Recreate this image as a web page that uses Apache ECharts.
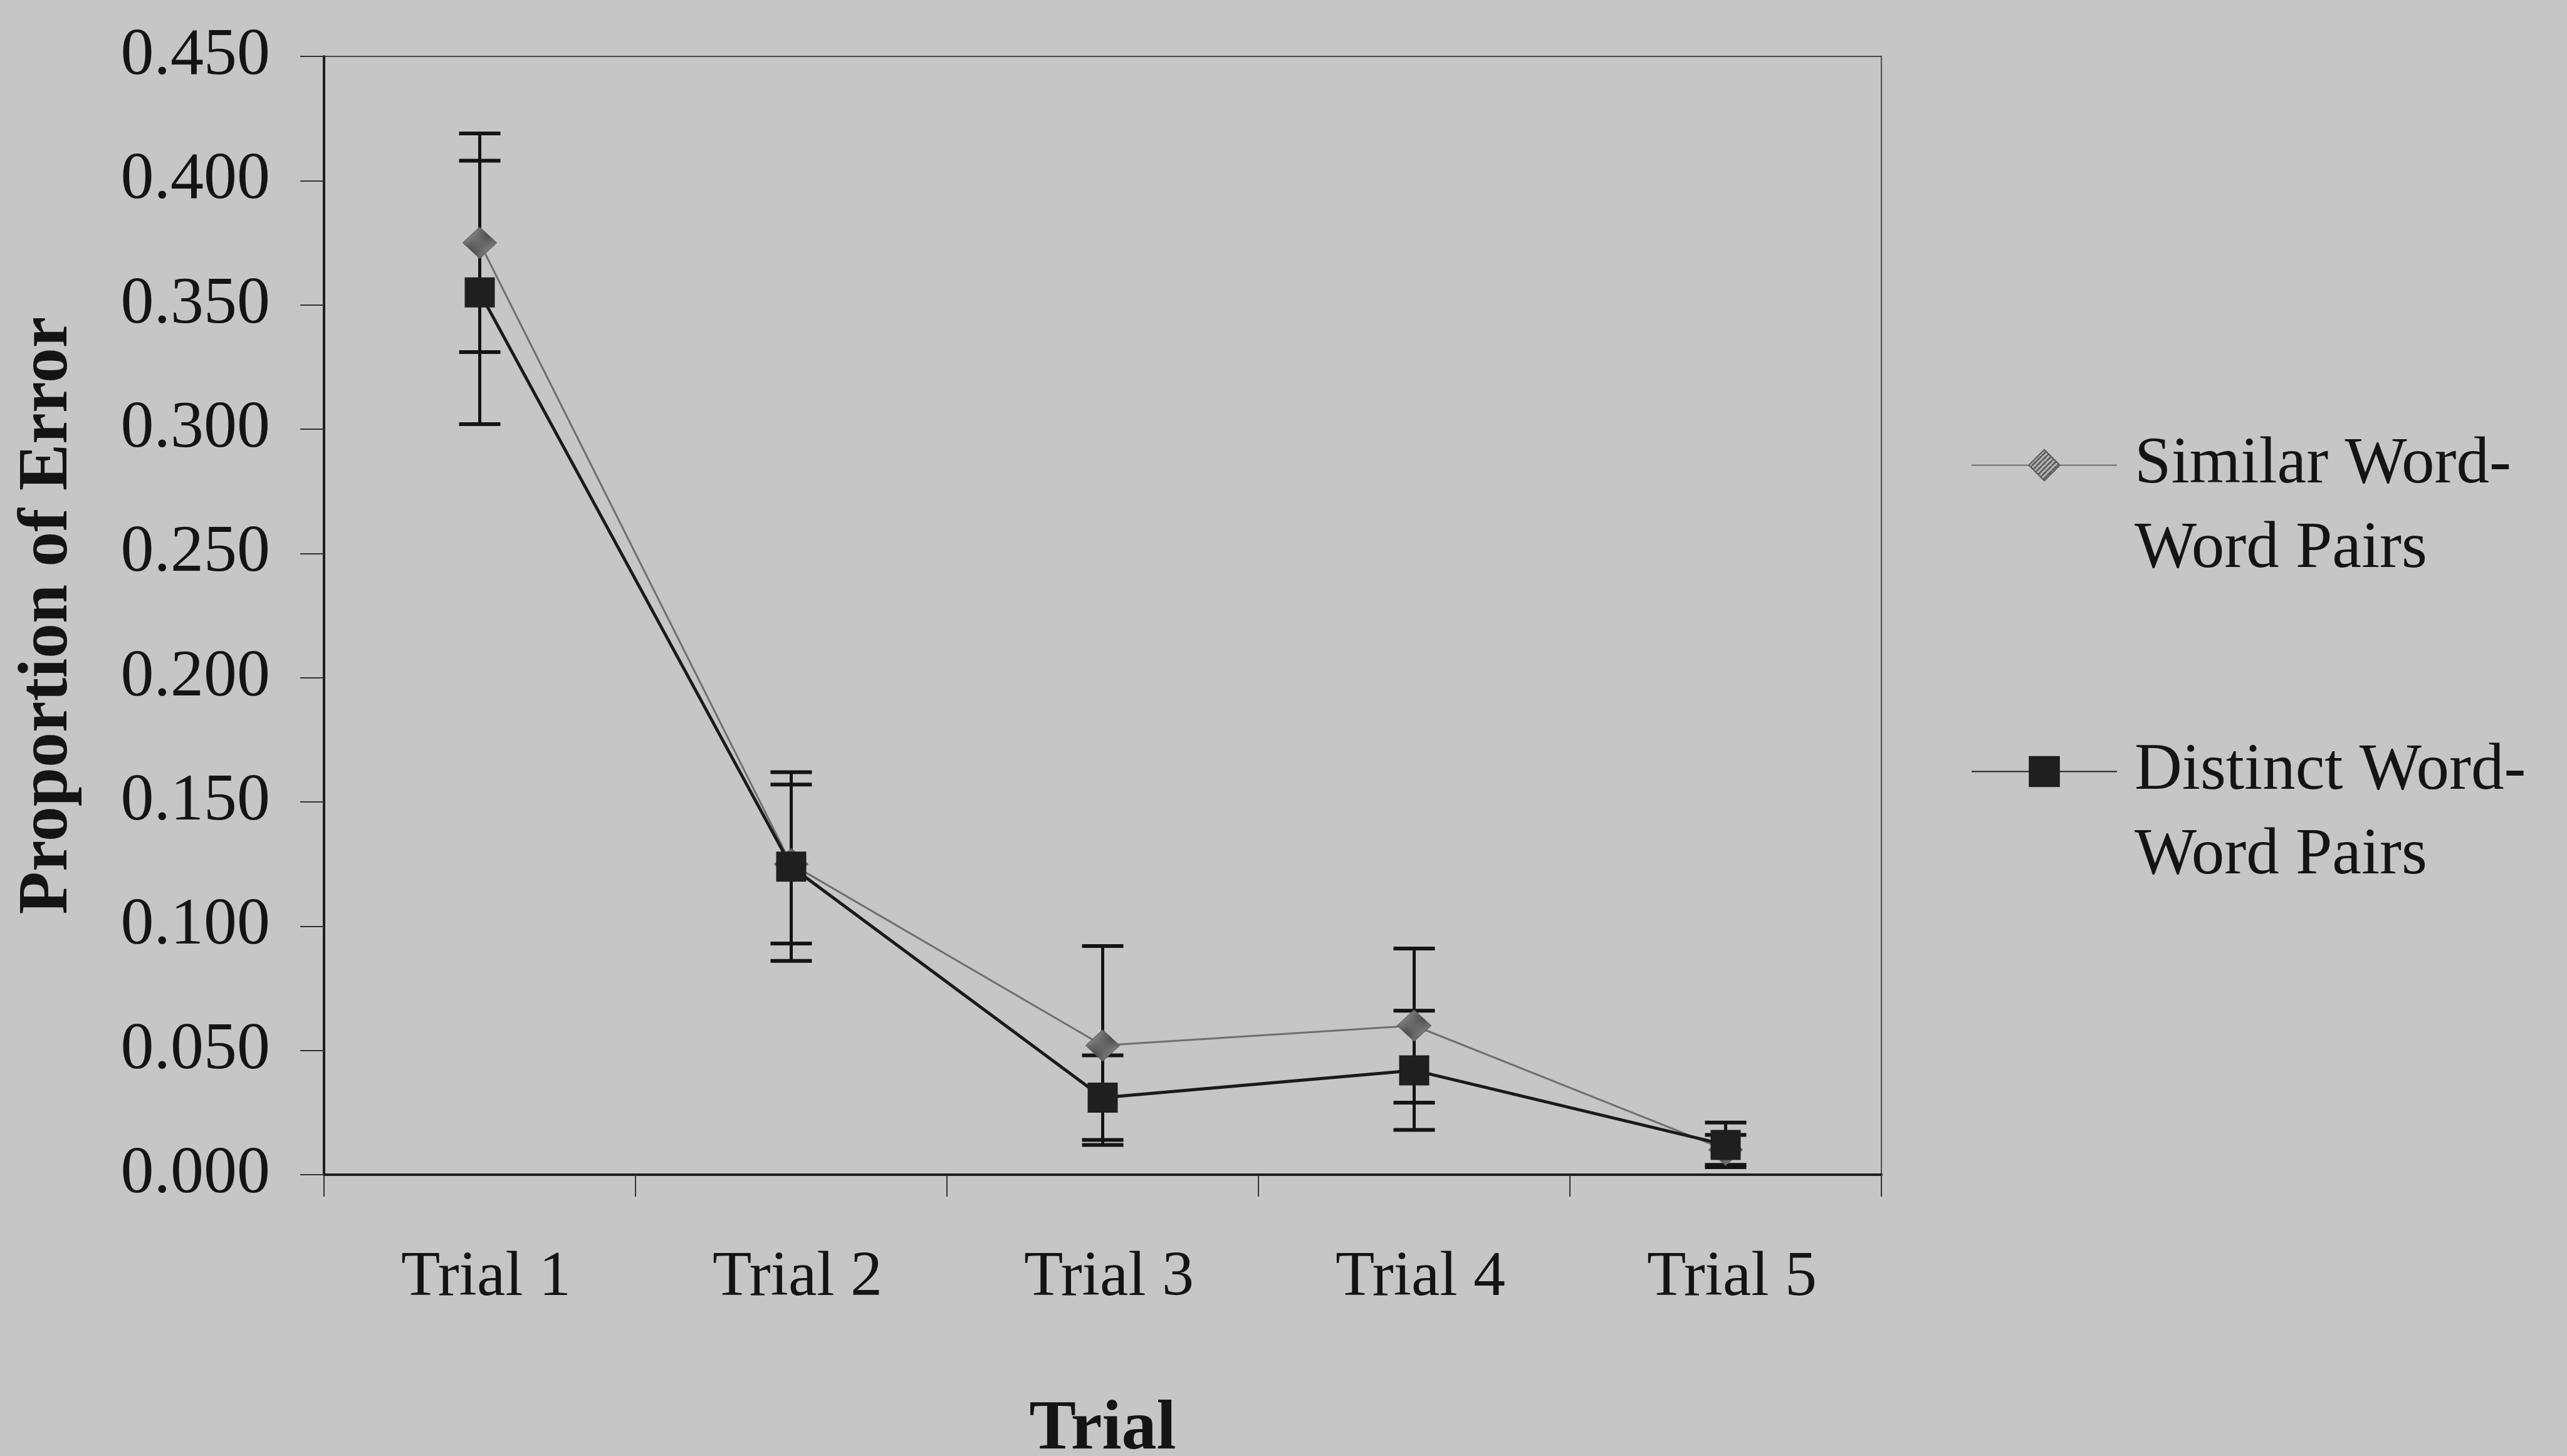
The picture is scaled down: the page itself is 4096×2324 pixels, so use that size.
<!DOCTYPE html>
<html>
<head>
<meta charset="utf-8">
<script src="https://cdn.jsdelivr.net/npm/echarts@6/dist/echarts.min.js"></script>
<style>
  html, body { margin: 0; padding: 0; background: #c6c6c6; }
  #chart { width: 4096px; height: 2324px; }
</style>
</head>
<body>
<div id="chart"></div>
<script>
// Proportion of error per trial, two word-pair conditions (mean and error-bar half length)
const trials = ['Trial 1', 'Trial 2', 'Trial 3', 'Trial 4', 'Trial 5'];
const similarName = 'Similar Word-Word Pairs';
const distinctName = 'Distinct Word-Word Pairs';
const similarMean = [0.375, 0.125, 0.052, 0.060, 0.010];
const similarErr  = [0.044, 0.032, 0.040, 0.031, 0.006];
const distinctMean = [0.355, 0.124, 0.031, 0.042, 0.012];
const distinctErr  = [0.053, 0.038, 0.017, 0.024, 0.009];

const FONT = '"Liberation Serif", "Times New Roman", serif';
const INK = '#141414';

// Diagonal hatch used to fill the diamond markers
function hatchPattern() {
  const c = document.createElement('canvas');
  c.width = 8; c.height = 8;
  const g = c.getContext('2d');
  g.fillStyle = '#b4b4b4';
  g.fillRect(0, 0, 8, 8);
  g.strokeStyle = '#4e4e4e';
  g.lineWidth = 2.4;
  g.beginPath();
  for (let k = -8; k <= 16; k += 8) {
    g.moveTo(k, 8); g.lineTo(k + 8, 0);
  }
  g.stroke();
  return { image: c, repeat: 'repeat' };
}

// Vertical error bar with caps, positioned through the chart's axes
function errorBar(params, api) {
  const i = api.value(0), m = api.value(1), e = api.value(2);
  const hi = api.coord([i, m + e]);
  const lo = api.coord([i, m - e]);
  const half = 33;
  const style = { stroke: INK, lineWidth: 5 };
  const cap = { stroke: INK, lineWidth: 6 };
  return {
    type: 'group',
    children: [
      { type: 'line', shape: { x1: hi[0], y1: hi[1], x2: lo[0], y2: lo[1] }, style },
      { type: 'line', shape: { x1: hi[0] - half, y1: hi[1], x2: hi[0] + half, y2: hi[1] }, style: cap },
      { type: 'line', shape: { x1: lo[0] - half, y1: lo[1], x2: lo[0] + half, y2: lo[1] }, style: cap }
    ]
  };
}

const chart = echarts.init(document.getElementById('chart'), null, { renderer: 'canvas' });

chart.setOption({
  backgroundColor: '#c6c6c6',
  animation: false,
  grid: {
    left: 517, right: 1094, top: 90, bottom: 449,
    containLabel: false,
    outerBoundsMode: 'none',
    show: true, borderColor: '#4a4a4a', borderWidth: 2, backgroundColor: 'transparent'
  },
  xAxis: {
    type: 'category',
    data: trials,
    boundaryGap: true,
    name: 'Trial',
    nameLocation: 'middle',
    nameGap: 352,
    nameTextStyle: { fontFamily: FONT, fontSize: 112, fontWeight: 'bold', color: INK },
    axisLine: { show: true, lineStyle: { color: '#1e1e1e', width: 4 } },
    axisTick: { show: true, length: 35, inside: false, lineStyle: { color: '#333', width: 2 } },
    axisLabel: { margin: 114, fontFamily: FONT, fontSize: 102, color: INK, padding: [0, 0, 0, 20] },
    splitLine: { show: false }
  },
  yAxis: {
    type: 'value',
    min: 0, max: 0.45, interval: 0.05,
    name: 'Proportion of Error',
    nameLocation: 'middle',
    nameGap: 384,
    nameTextStyle: { fontFamily: FONT, fontSize: 112, fontWeight: 'bold', color: INK },
    axisLine: { show: true, lineStyle: { color: '#1e1e1e', width: 4 } },
    axisTick: { show: true, length: 38, inside: false, lineStyle: { color: '#333', width: 2 } },
    axisLabel: {
      margin: 86, fontFamily: FONT, fontSize: 106, color: INK,
      formatter: v => v.toFixed(3)
    },
    splitLine: { show: false }
  },
  legend: {
    orient: 'vertical',
    left: 3145, top: 540,
    padding: 0,
    itemGap: 84,
    itemWidth: 232, itemHeight: 62,
    data: [similarName, distinctName],
    // leading empty line keeps the first text line level with the swatch
    formatter: name => '\n' + name.replace('-', '-\n'),
    textStyle: {
      fontFamily: FONT, fontSize: 105, color: INK,
      lineHeight: 135, padding: [0, 0, 0, 23]
    }
  },
  series: [
    {
      type: 'custom',
      name: 'similar-error',
      renderItem: errorBar,
      encode: { x: 0, y: 1 },
      data: similarMean.map((m, i) => [i, m, similarErr[i]]),
      z: 1, silent: true
    },
    {
      type: 'custom',
      name: 'distinct-error',
      renderItem: errorBar,
      encode: { x: 0, y: 1 },
      data: distinctMean.map((m, i) => [i, m, distinctErr[i]]),
      z: 1, silent: true
    },
    {
      type: 'line',
      name: similarName,
      data: similarMean,
      symbol: 'diamond',
      symbolSize: [54, 50],
      lineStyle: { color: '#6f6f6f', width: 3 },
      itemStyle: { color: hatchPattern(), borderColor: '#5a5a5a', borderWidth: 1 },
      z: 3
    },
    {
      type: 'line',
      name: distinctName,
      data: distinctMean,
      symbol: 'rect',
      symbolSize: 48,
      lineStyle: { color: '#1a1a1a', width: 5 },
      itemStyle: { color: '#1f1f1f' },
      z: 4
    }
  ]
});
</script>
</body>
</html>
